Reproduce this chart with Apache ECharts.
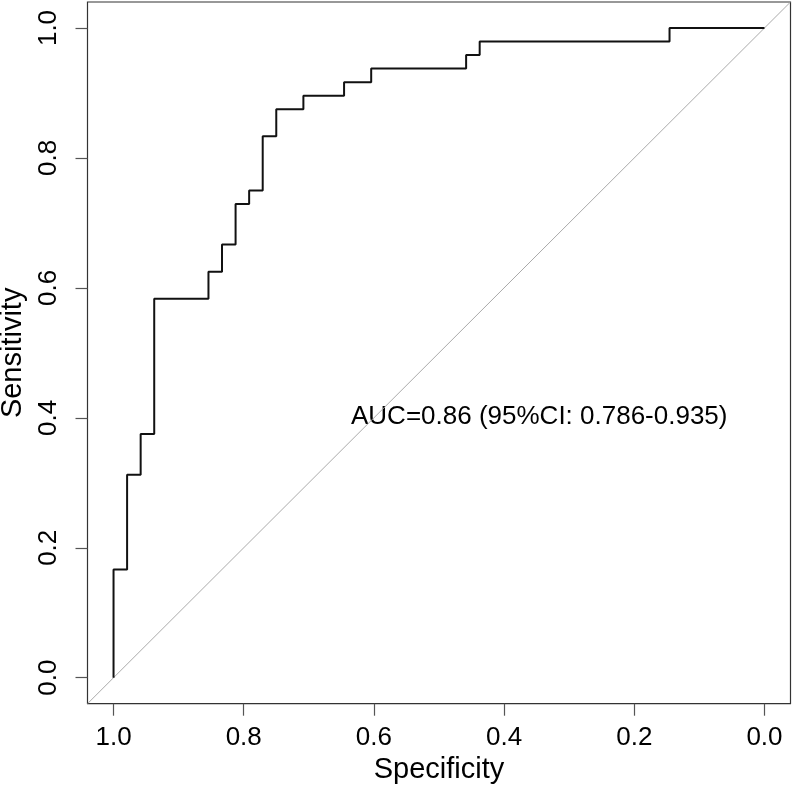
<!DOCTYPE html>
<html>
<head>
<meta charset="utf-8">
<script src="https://cdn.jsdelivr.net/npm/echarts@6/dist/echarts.min.js"></script>
<style>
html,body{margin:0;padding:0;background:#fff;}
#chart{width:792px;height:791px;}
</style>
</head>
<body>
<div id="chart"></div>
<script>
// ROC curve corner points (specificity, sensitivity), step turns vertical first
var specificity = [1, 47/48, 46/48, 45/48, 41/48, 40/48, 39/48, 38/48, 37/48, 36/48, 34/48, 31/48, 29/48, 22/48, 21/48, 7/48, 0];
var sensitivity = [0, 8/48, 15/48, 18/48, 28/48, 30/48, 32/48, 35/48, 36/48, 40/48, 42/48, 43/48, 44/48, 45/48, 46/48, 47/48, 1];
var diagSpec = [1.04, -0.04];
var diagSens = [-0.04, 1.04];
var tickValues = [0, 0.2, 0.4, 0.6, 0.8, 1.0];
var tickLabels = ['0.0', '0.2', '0.4', '0.6', '0.8', '1.0'];
var aucText = 'AUC=0.86 (95%CI: 0.786-0.935)';
var xTitle = 'Specificity';
var yTitle = 'Sensitivity';

var rocData = specificity.map(function (s, i) { return [s, sensitivity[i]]; });
var diagData = diagSpec.map(function (s, i) { return [s, diagSens[i]]; });

function fmt(v) {
  var idx = tickValues.findIndex(function (t) { return Math.abs(t - v) < 1e-9; });
  return idx >= 0 ? tickLabels[idx] : '';
}

var chart = echarts.init(document.getElementById('chart'), null, {renderer: 'canvas'});
var font = '"Liberation Sans", Arial, Helvetica, sans-serif';
chart.setOption({
  animation: false,
  backgroundColor: '#ffffff',
  grid: {
    left: 87.5, right: 1.5, top: 2, bottom: 87.3,
    show: true, borderColor: '#333', borderWidth: 1.2,
    containLabel: false, outerBoundsMode: 'none'
  },
  xAxis: {
    type: 'value', min: -0.04, max: 1.04, inverse: true,
    splitLine: {show: false},
    axisLine: {show: false, onZero: false},
    axisTick: {show: true, length: 12, inside: false, customValues: tickValues, lineStyle: {color: '#555', width: 1.2}},
    axisLabel: {show: true, customValues: tickValues, formatter: fmt, margin: 21,
      fontFamily: font, fontSize: 26, color: '#000'},
    name: xTitle, nameLocation: 'middle', nameGap: 51,
    nameTextStyle: {fontFamily: font, fontSize: 29, color: '#000'}
  },
  yAxis: {
    type: 'value', min: -0.04, max: 1.04,
    splitLine: {show: false},
    axisLine: {show: false, onZero: false},
    axisTick: {show: true, length: 12, inside: false, customValues: tickValues, lineStyle: {color: '#555', width: 1.2}},
    axisLabel: {show: true, customValues: tickValues, formatter: fmt, rotate: 90, margin: 26,
      fontFamily: font, fontSize: 26, color: '#000'},
    name: yTitle, nameLocation: 'middle', nameGap: 57, nameRotate: 90,
    nameTextStyle: {fontFamily: font, fontSize: 29, color: '#000'}
  },
  series: [
    {
      type: 'line', data: diagData, showSymbol: false, symbol: 'none',
      lineStyle: {color: '#aaaaaa', width: 1}, silent: true, z: 1
    },
    {
      type: 'line', data: rocData, step: 'start', showSymbol: false, symbol: 'none',
      lineStyle: {color: '#111111', width: 2}, silent: true, z: 2
    }
  ],
  graphic: [
    {
      type: 'text', left: 351, top: 404,
      style: {text: aucText, fontFamily: font, fontSize: 26, fill: '#000'}
    }
  ]
});
</script>
</body>
</html>
